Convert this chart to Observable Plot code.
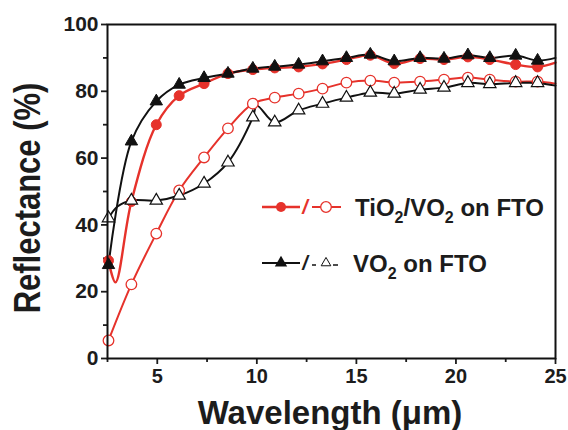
<!DOCTYPE html>
<html>
<head>
<meta charset="utf-8">
<script src="https://cdn.jsdelivr.net/npm/d3@7"></script>
<script src="https://cdn.jsdelivr.net/npm/@observablehq/plot@0.6"></script>
<style>
  html, body { margin: 0; padding: 0; background: #fff; }
  #chart { width: 568px; height: 430px; overflow: hidden; }
</style>
</head>
<body>
<div id="chart"></div>
<script>
// ---- data ----
const wavelength = [2.55, 3.7, 4.95, 6.1, 7.35, 8.55, 9.8, 10.9, 12.1, 13.3, 14.5, 15.7, 16.9, 18.2, 19.4, 20.6, 21.7, 23.0, 24.1];

// TiO2/VO2 on FTO, filled circles
const tiVo2Filled = [29.3, 47, 70, 78.7, 82.3, 85.3, 86.5, 87, 87.3, 88.2, 89.5, 90.8, 88.3, 89.8, 89.5, 90.3, 89.5, 88, 87.3];
// TiO2/VO2 on FTO, open circles
const tiVo2Open = [5.4, 22.2, 37.4, 50.3, 60.2, 68.9, 76.3, 78.1, 79.3, 80.8, 82.6, 83.2, 82.6, 82.9, 83.5, 84.1, 83.5, 82.9, 82.9];
// VO2 on FTO, filled triangles
const vo2Filled = [28, 65, 77, 82, 84, 85.3, 86.8, 87.4, 88, 89, 90, 91, 89, 90, 89.8, 90.8, 90, 90.7, 89.2];
// VO2 on FTO, open triangles
const vo2Open = [42, 47.3, 47.3, 48.8, 52.4, 58.7, 72.2, 70.7, 74.3, 76.3, 78.1, 79.6, 79.3, 80.5, 81.1, 82.5, 82.2, 82.5, 82.5];

// extra curve vertices without markers [wavelength, reflectance]
const tiVo2FilledExtra = [[2.9, 22.8], [25, 88.6]];
const tiVo2OpenExtra = [[25, 82.3]];
const vo2FilledExtra = [[25, 90]];
const vo2OpenExtra = [[3.0, 45.5], [10.0, 75.7], [25, 81.7]];

const xMajorTicks = [5, 10, 15, 20, 25];
const xMinorTicks = [2.5, 7.5, 12.5, 17.5, 22.5];
const yMajorTicks = [0, 20, 40, 60, 80, 100];
const yMinorTicks = [10, 30, 50, 70, 90];

const RED = "#e6322b";
const BLACK = "#111";

function markerRows(values) {
  return wavelength.map((w, i) => ({w, r: values[i]}));
}
function curveRows(values, extra) {
  return markerRows(values).concat(extra.map(([w, r]) => ({w, r}))).sort((a, b) => a.w - b.w);
}

const chart = Plot.plot({
  width: 568,
  height: 430,
  marginLeft: 107,
  marginRight: 13,
  marginTop: 24,
  marginBottom: 72,
  x: {domain: [2.5, 25]},
  y: {domain: [0, 100]},
  style: {fontFamily: "'Liberation Sans', Arial, sans-serif", fontWeight: "bold", color: "#1c1c1c", background: "white"},
  marks: [
    Plot.axisX({ticks: xMajorTicks, tickSize: 6, tickPadding: 4, fontSize: 20, label: null, strokeWidth: 1.8}),
    Plot.axisX({ticks: xMinorTicks, tickSize: 4, text: null, label: null, strokeWidth: 1.8}),
    Plot.axisY({ticks: yMajorTicks, tickSize: 6, tickPadding: 3, fontSize: 21, label: null, strokeWidth: 1.8}),
    Plot.axisY({ticks: yMinorTicks, tickSize: 4, text: null, label: null, strokeWidth: 1.8}),

    Plot.line(curveRows(tiVo2Open, tiVo2OpenExtra), {x: "w", y: "r", stroke: RED, strokeWidth: 2, curve: "catmull-rom"}),
    Plot.line(curveRows(tiVo2Filled, tiVo2FilledExtra), {x: "w", y: "r", stroke: RED, strokeWidth: 2.4, curve: "catmull-rom"}),
    Plot.line(curveRows(vo2Open, vo2OpenExtra), {x: "w", y: "r", stroke: BLACK, strokeWidth: 2, curve: "catmull-rom"}),
    Plot.line(curveRows(vo2Filled, vo2FilledExtra), {x: "w", y: "r", stroke: BLACK, strokeWidth: 2, curve: "catmull-rom"}),

    Plot.dot(markerRows(tiVo2Filled), {x: "w", y: "r", r: 5, fill: RED, stroke: RED, strokeWidth: 1}),
    Plot.dot(markerRows(tiVo2Open), {x: "w", y: "r", r: 5.3, fill: "white", stroke: RED, strokeWidth: 1.3}),
    Plot.dot(markerRows(vo2Filled), {x: "w", y: "r", symbol: "triangle", r: 4.6, fill: BLACK, stroke: BLACK, strokeWidth: 1}),
    Plot.dot(markerRows(vo2Open), {x: "w", y: "r", symbol: "triangle", r: 4.6, fill: "white", stroke: BLACK, strokeWidth: 1.2}),

    Plot.frame({stroke: BLACK, strokeWidth: 2})
  ]
});

document.getElementById("chart").appendChild(chart);

// ---- axis titles and legend, added to the same SVG ----
const svg = d3.select(chart);
const FONT = "'Liberation Sans', Arial, sans-serif";

svg.append("text")
  .attr("transform", "translate(40,198) rotate(-90) scale(1,1.22)")
  .attr("text-anchor", "middle")
  .attr("font-family", FONT).attr("font-weight", "bold").attr("font-size", 31)
  .attr("fill", "#1c1c1c")
  .text("Reflectance (%)");

svg.append("text")
  .attr("x", 330).attr("y", 424)
  .attr("text-anchor", "middle")
  .attr("font-family", FONT).attr("font-weight", "bold").attr("font-size", 33)
  .attr("fill", "#1c1c1c")
  .text("Wavelength (\u03BCm)");

const legend = svg.append("g").attr("font-family", FONT).attr("font-weight", "bold").attr("fill", "#1c1c1c").attr("text-anchor", "start");

// row 1: TiO2/VO2 on FTO
const r1 = 207;
legend.append("line").attr("x1", 262).attr("x2", 300).attr("y1", r1).attr("y2", r1).attr("stroke", RED).attr("stroke-width", 2.4);
legend.append("circle").attr("cx", 281).attr("cy", r1).attr("r", 5).attr("fill", RED);
legend.append("text").attr("x", 305).attr("y", r1 + 7).attr("text-anchor", "middle").attr("font-size", 20).attr("font-style", "italic").attr("fill", RED).text("/");
legend.append("line").attr("x1", 312).attr("x2", 341).attr("y1", r1).attr("y2", r1).attr("stroke", RED).attr("stroke-width", 2);
legend.append("circle").attr("cx", 326).attr("cy", r1).attr("r", 5.3).attr("fill", "white").attr("stroke", RED).attr("stroke-width", 1.3);
const t1 = legend.append("text").attr("x", 355).attr("y", r1 + 8.5).attr("font-size", 24).attr("text-anchor", "start");
t1.append("tspan").text("TiO");
t1.append("tspan").attr("font-size", 16).attr("dy", 7).text("2");
t1.append("tspan").attr("dy", -7).text("/VO");
t1.append("tspan").attr("font-size", 16).attr("dy", 7).text("2");
t1.append("tspan").attr("dy", -7).text(" on FTO");

// row 2: VO2 on FTO
const r2 = 263;
legend.append("line").attr("x1", 262).attr("x2", 300).attr("y1", r2).attr("y2", r2).attr("stroke", BLACK).attr("stroke-width", 2);
legend.append("path").attr("d", d3.symbol(d3.symbolTriangle, Math.PI * 4.6 * 4.6)()).attr("transform", `translate(281,${r2})`).attr("fill", BLACK);
legend.append("text").attr("x", 305).attr("y", r2 + 7).attr("text-anchor", "middle").attr("font-size", 20).attr("font-style", "italic").text("/");
legend.append("line").attr("x1", 312).attr("x2", 316).attr("y1", r2 + 2).attr("y2", r2 + 2).attr("stroke", BLACK).attr("stroke-width", 1.5);
legend.append("path").attr("d", d3.symbol(d3.symbolTriangle, 40)()).attr("transform", `translate(326,${r2})`).attr("fill", "white").attr("stroke", BLACK).attr("stroke-width", 1);
legend.append("line").attr("x1", 333).attr("x2", 338).attr("y1", r2 + 2).attr("y2", r2 + 2).attr("stroke", BLACK).attr("stroke-width", 1.5);
const t2 = legend.append("text").attr("x", 353).attr("y", r2 + 8.5).attr("font-size", 24).attr("text-anchor", "start");
t2.append("tspan").text("VO");
t2.append("tspan").attr("font-size", 16).attr("dy", 7).text("2");
t2.append("tspan").attr("dy", -7).text(" on FTO");
</script>
</body>
</html>
